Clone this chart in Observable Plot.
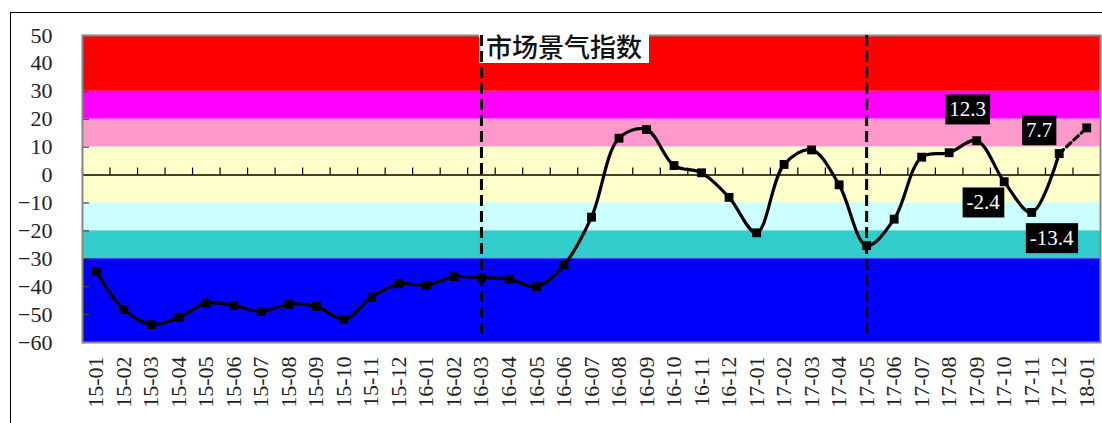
<!DOCTYPE html>
<html><head><meta charset="utf-8">
<script src="https://cdn.jsdelivr.net/npm/d3@7"></script>
<script src="https://cdn.jsdelivr.net/npm/@observablehq/plot@0.6"></script>
<style>
body{margin:0;background:#fff;}
#wrap{position:relative;width:1102px;height:423px;overflow:hidden;}
#frame{position:absolute;left:10px;top:12px;width:1200px;height:500px;border-left:1px solid #000;border-top:1px solid #000;pointer-events:none;}
</style></head><body><div id="wrap"></div>
<script>
const months = ["15-01","15-02","15-03","15-04","15-05","15-06","15-07","15-08","15-09","15-10","15-11","15-12",
  "16-01","16-02","16-03","16-04","16-05","16-06","16-07","16-08","16-09","16-10","16-11","16-12",
  "17-01","17-02","17-03","17-04","17-05","17-06","17-07","17-08","17-09","17-10","17-11","17-12","18-01"];
const values = [-34.5,-48.2,-53.6,-51.0,-45.9,-46.8,-48.9,-46.3,-47.1,-51.7,-43.8,-39.0,
  -39.5,-36.4,-36.8,-37.3,-40.0,-32.2,-15.1,13.2,16.3,3.4,0.8,-8.0,
  -20.7,3.8,9.0,-3.5,-25.3,-15.8,6.4,8.0,12.3,-2.4,-13.4,7.7,16.9];
const bandLo = [30,20,10,-10,-20,-30,-60];
const bandHi = [50,30,20,10,-10,-20,-30];
const bandColors = ["#FF0000","#FF00FF","#FF99CC","#FFFFCC","#CCFFFF","#33CCCC","#0000FF"];
const yTicks = [50,40,30,20,10,0,-10,-20,-30,-40,-50,-60];
const markerMonths = ["16-03","17-05"];
const labelMonths = ["17-09","17-10","17-11","17-12"];
const labelValues = [12.3,-2.4,-13.4,7.7];
const titleText = "市场景气指数";
const titleMonth = "16-06";

// layout (not data)
const W = 1102, H = 423, mL = 82, mR = 2, mT = 35, mB = 81;
const step = (W - mL - mR) / months.length;
const labelDx = [-9, -21, 20, -20];
const labelDy = [-31, 21, 26, -23];

const data = months.map((m, i) => ({m, v: values[i]}));
const bands = bandColors.map((c, i) => ({lo: bandLo[i], hi: bandHi[i], c}));
const solid = data.slice(0, -1);
const dashed = data.slice(-2);
const labels = labelMonths.map((m, i) => ({m, v: labelValues[i], t: String(labelValues[i])}));

const labelMarks = labels.map((d, i) => Plot.text([d], {
  x: "m", y: "v", text: "t", dx: labelDx[i], dy: labelDy[i],
  fill: "#fff", fontSize: 21, fontFamily: "Liberation Serif"
}));

const chart = Plot.plot({
  width: W, height: H, marginLeft: mL, marginRight: mR, marginTop: mT, marginBottom: mB,
  style: {fontFamily: "Liberation Serif", fontSize: "22px", color: "#222", background: "transparent"},
  x: {type: "band", domain: months, padding: 0, round: false, label: null},
  y: {domain: [-60, 50], label: null},
  color: {type: "identity"},
  marks: [
    Plot.rect(bands, {y1: "lo", y2: "hi", fill: "c"}),
    Plot.ruleY([0], {stroke: "#000", strokeWidth: 1.5}),
    Plot.ruleX(months, {x: d => d, y1: () => 0, y2: () => 0, insetTop: -7, dx: -step / 2, stroke: "#000", strokeWidth: 1.2}),
    Plot.ruleY(yTicks, {y: d => d, insetRight: W - mL - mR - 7, stroke: "#444", strokeWidth: 1.2}),
    Plot.frame({stroke: "#888", strokeWidth: 2}),
    Plot.axisY(yTicks, {tickSize: 0, tickPadding: 30, fontSize: 22, label: null}),
    Plot.axisX({tickRotate: -90, tickSize: 0, tickPadding: 14, fontSize: 22, label: null}),
    Plot.text([titleText], {x: () => titleMonth, y: () => 50, text: d => d, lineAnchor: "top", dy: 3,
      fontSize: 26, fontFamily: "Noto Sans CJK SC", fontWeight: 500, fill: "#111"}),
    Plot.ruleX(markerMonths, {x: d => d, stroke: "#000", strokeWidth: 3, strokeDasharray: "11,5", insetBottom: 4}),
    Plot.line(solid, {x: "m", y: "v", curve: "catmull-rom", stroke: "#000", strokeWidth: 3.2}),
    Plot.line(dashed, {x: "m", y: "v", curve: "linear", stroke: "#000", strokeWidth: 3.2, strokeDasharray: "6,4"}),
    Plot.dot(data, {x: "m", y: "v", symbol: "square", r: 5, fill: "#000"}),
    ...labelMarks
  ]
});
const wrap = document.getElementById("wrap");
wrap.appendChild(chart);
const fr = document.createElement("div"); fr.id = "frame"; wrap.appendChild(fr);

const labelTexts = new Set(labels.map(d => d.t));
d3.select(chart).selectAll("text").each(function() {
  const t = this.textContent;
  let fill = null, px = 0, py = 0;
  if (t === titleText) { fill = "#fff"; px = 7; py = -1; }
  else if (labelTexts.has(t)) { fill = "#000"; px = 4; py = 3; }
  if (!fill) return;
  const b = this.getBBox();
  const r = document.createElementNS("http://www.w3.org/2000/svg", "rect");
  r.setAttribute("x", b.x - px); r.setAttribute("y", b.y - py);
  r.setAttribute("width", b.width + 2 * px); r.setAttribute("height", b.height + 2 * py);
  r.setAttribute("fill", fill);
  const tr = this.getAttribute("transform");
  if (tr) r.setAttribute("transform", tr);
  this.parentNode.insertBefore(r, this);
});
</script></body></html>
